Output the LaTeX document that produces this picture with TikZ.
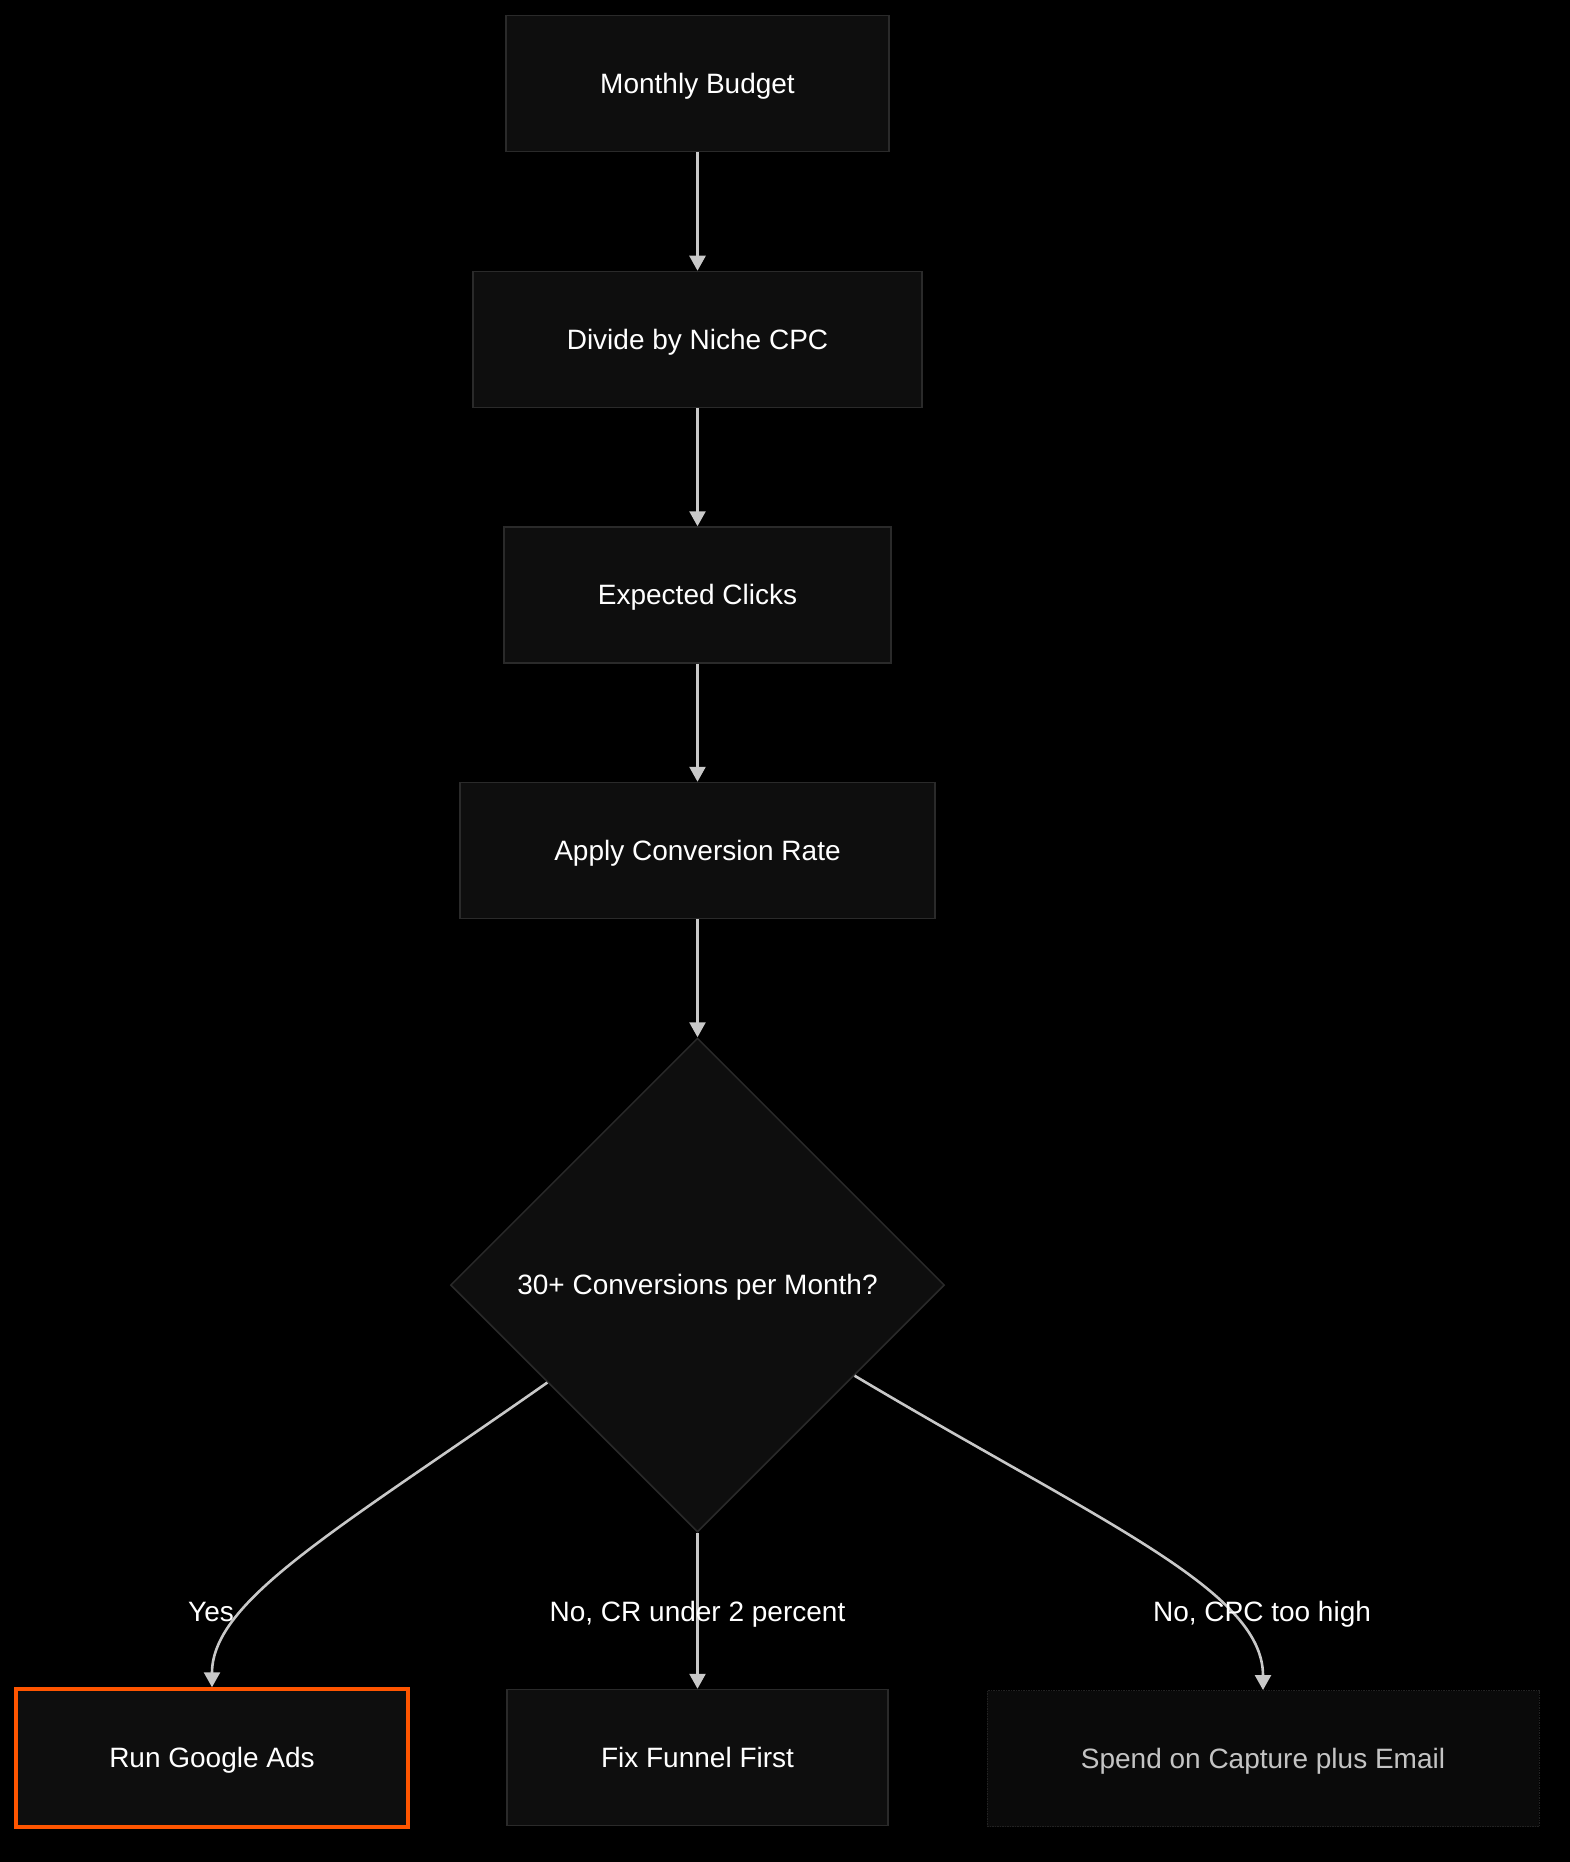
\documentclass[tikz,border=0pt]{standalone}
\usepackage{fontspec}
\setmainfont{Liberation Sans}
\usetikzlibrary{arrows.meta,shapes.geometric}
\definecolor{nodefill}{HTML}{0E0E0E}
\definecolor{nodeborder}{HTML}{2A2A2A}
\definecolor{edgecol}{HTML}{C8C8C8}
\definecolor{accent}{HTML}{FF5500}
\definecolor{mutedfill}{HTML}{0A0A0A}
\definecolor{mutedborder}{HTML}{222222}
\definecolor{mutedtext}{HTML}{C4C4C4}
\begin{document}
\begin{tikzpicture}[x=1pt,y=-1pt,
  txt/.style={font=\fontsize{28}{34}\selectfont, text height=25.3pt, text depth=5.9pt},
  box/.style={txt, draw=nodeborder, line width=1.5pt, fill=nodefill, text=white,
    minimum height=136pt, inner sep=0pt},
  decision/.style={txt, diamond, draw=nodeborder, line width=1.5pt, fill=nodefill, text=white,
    minimum width=494pt, minimum height=494pt, inner sep=0pt},
  flow/.style={draw=edgecol, line width=2.6pt, -{Triangle[width=16pt,length=15pt,fill=edgecol]}},
  lbl/.style={txt, text=white, inner sep=0pt}]
\fill[black] (0,0) rectangle (1570,1862);
\useasboundingbox (0,0) rectangle (1570,1862);

\node[box, minimum width=383pt] (mb) at (697.5,83.5) {Monthly Budget};
\node[box, minimum width=449pt] (div) at (697.5,339.5) {Divide by Niche CPC};
\node[box, minimum width=387pt] (exp) at (697.5,595) {Expected Clicks};
\node[box, minimum width=475pt] (app) at (697.5,850.5) {Apply Conversion Rate};
\node[decision] (dec) at (697.5,1285) {30+ Conversions per Month?};
\node[box, draw=accent, line width=3.5pt, minimum width=392pt, minimum height=138pt] (run) at (212,1758) {Run Google Ads};
\node[box, minimum width=381pt] (fix) at (697.5,1757.5) {Fix Funnel First};
\node[box, draw=mutedborder, densely dotted, line width=1pt, fill=mutedfill, text=mutedtext, minimum width=552pt] (spend) at (1263,1758.5) {Spend on Capture plus Email};

\draw[flow] (mb.south) -- (div.north);
\draw[flow] (div.south) -- (exp.north);
\draw[flow] (exp.south) -- (app.north);
\draw[flow] (app.south) -- (dec.north);
\draw[flow] (dec.south) -- (fix.north);
\draw[flow] (dec.213) .. controls (340,1528) and (212,1600) .. (run.north);
\draw[flow] (dec.330) .. controls (1100,1522) and (1263,1590) .. (spend.north);

\node[lbl] (lyes) at (211,1612) {Yes};
\node[lbl] (lcr) at (697.5,1612) {No, CR under 2 percent};
\node[lbl] (lcpc) at (1262,1612) {No, CPC too high};
\end{tikzpicture}
\end{document}
